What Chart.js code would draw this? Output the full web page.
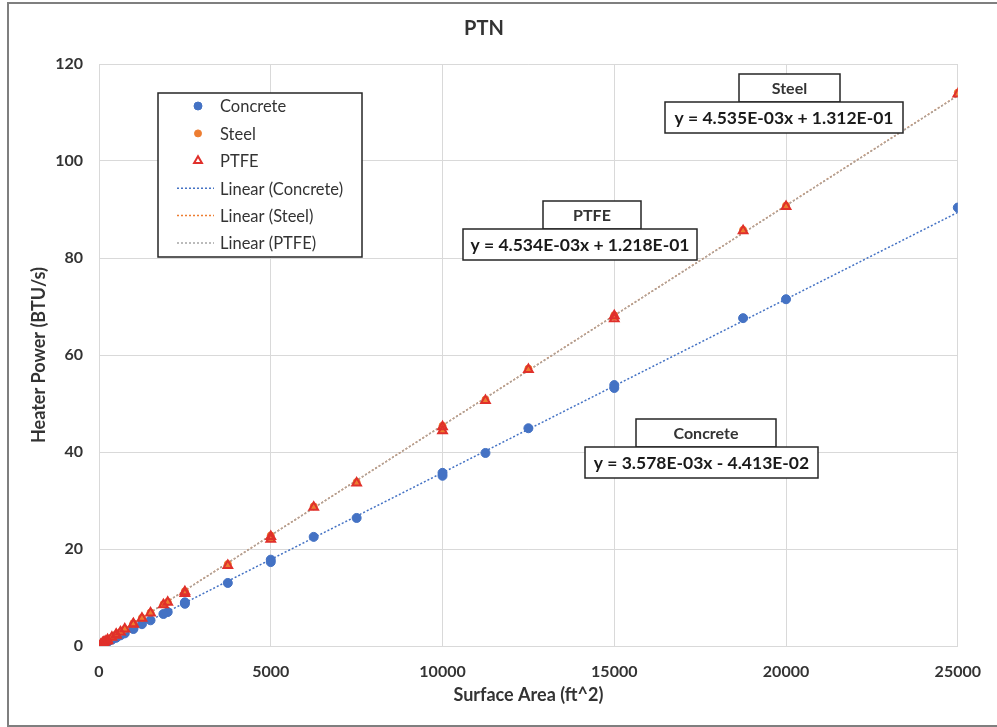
<!DOCTYPE html>
<html>
<head>
<meta charset="utf-8">
<title>PTN</title>
<script src="https://cdn.jsdelivr.net/npm/chart.js@4.4.1/dist/chart.umd.min.js"></script>
<style>
  body { margin: 0; background: #fff; }
  canvas { display: block; }
</style>
</head>
<body>
<canvas id="myChart" width="997" height="727"></canvas>
<script>
// Surface area of each case (ft^2)
var areas = [25000, 20000, 18750, 15000, 15000, 12500, 11250, 10000, 10000, 7500, 6250,
  5000, 5000, 3750, 2500, 2500, 2000, 1875, 1500, 1250, 1000, 1000, 750, 625,
  500, 500, 375, 250, 250, 200, 150, 125, 100, 50];
// Heater power (BTU/s) per material
var concrete = [90.4, 71.5, 67.6, 53.2, 53.8, 44.9, 39.8, 35.1, 35.7, 26.4, 22.5,
  17.3, 17.8, 13.0, 8.7, 9.0, 7.0, 6.6, 5.3, 4.5, 3.5, 3.7, 2.6, 2.2,
  1.8, 1.7, 1.3, 0.9, 0.85, 0.7, 0.5, 0.45, 0.35, 0.15];
var steel = [114.1, 90.8, 85.8, 67.9, 68.2, 57.2, 50.8, 45.4, 44.6, 33.8, 28.8,
  22.8, 22.2, 16.9, 11.3, 11.0, 9.1, 8.6, 6.9, 5.8, 4.7, 4.6, 3.5, 2.9,
  2.4, 2.3, 1.8, 1.3, 1.2, 1.0, 0.8, 0.7, 0.6, 0.35];
var ptfe = [113.8, 90.6, 85.6, 67.5, 68.1, 57.0, 50.6, 45.2, 44.4, 33.6, 28.6,
  22.6, 22.0, 16.6, 11.2, 10.8, 9.0, 8.5, 6.8, 5.7, 4.6, 4.5, 3.5, 2.9,
  2.4, 2.2, 1.8, 1.3, 1.1, 1.0, 0.8, 0.7, 0.6, 0.3];

// Linear trendlines (slope, intercept) as fitted
var materials = ["Concrete", "Steel", "PTFE"];
var slopes = [3.578E-03, 4.535E-03, 4.534E-03];
var intercepts = [-4.413E-02, 1.312E-01, 1.218E-01];
var equations = ["y = 3.578E-03x - 4.413E-02", "y = 4.535E-03x + 1.312E-01", "y = 4.534E-03x + 1.218E-01"];
var trendRange = [0, 25000];

var xTicks = [0, 5000, 10000, 15000, 20000, 25000];
var yTicks = [0, 20, 40, 60, 80, 100, 120];

var FONT = "Lato, 'Liberation Sans', sans-serif";
var TEXT = "#333333";

function points(xs, ys) {
  return xs.map(function (x, i) { return { x: x, y: ys[i] }; });
}
function trend(i) {
  return trendRange.map(function (x) { return { x: x, y: slopes[i] * x + intercepts[i] }; });
}

// equation boxes (title box sits on top of the equation box)
var eqBoxes = [
  { series: 0, title: [636, 419, 140, 28], eq: [585, 447, 233, 31] },
  { series: 1, title: [739, 74, 101, 28], eq: [665, 102, 238, 31] },
  { series: 2, title: [543, 201, 98, 28], eq: [463, 229, 234, 31] }
];

var framePlugin = {
  id: "frame",
  beforeDraw: function (chart) {
    var c = chart.ctx;
    c.save();
    c.fillStyle = "#fff";
    c.fillRect(0, 0, chart.width, chart.height);
    c.strokeStyle = "#7f7f7f";
    c.lineWidth = 2;
    c.strokeRect(8, 3, chart.width + 20, chart.height - 4);
    c.restore();
  }
};

var legendPlugin = {
  id: "boxLegend",
  afterDraw: function (chart) {
    var c = chart.ctx;
    var sets = chart.data.datasets;
    var left = 158, top = 93, w = 204, h = 164, row = 27.4;
    c.save();
    c.fillStyle = "#fff";
    c.fillRect(left, top, w, h);
    c.strokeStyle = "#262626";
    c.lineWidth = 1.5;
    c.strokeRect(left, top, w, h);
    c.font = "16.5px " + FONT;
    c.textBaseline = "middle";
    sets.forEach(function (ds, i) {
      var y = top + 13 + i * row;
      if (ds.showLine) {
        c.strokeStyle = ds.borderColor;
        c.lineWidth = 1.5;
        c.setLineDash(ds.borderDash);
        c.beginPath();
        c.moveTo(177, y);
        c.lineTo(214, y);
        c.stroke();
        c.setLineDash([]);
      } else {
        c.fillStyle = ds.backgroundColor;
        c.strokeStyle = ds.borderColor;
        c.lineWidth = ds.borderWidth;
        Chart.helpers.drawPoint(c, {
          pointStyle: ds.pointStyle, rotation: 0, radius: ds.legendRadius, borderWidth: ds.borderWidth
        }, 198, y);
      }
      c.fillStyle = TEXT;
      c.fillText(ds.label, 220, y + 1);
    });
    c.restore();
  }
};

var equationPlugin = {
  id: "equations",
  afterDraw: function (chart) {
    var c = chart.ctx;
    c.save();
    c.textAlign = "center";
    c.textBaseline = "middle";
    c.strokeStyle = "#262626";
    c.lineWidth = 1.5;
    eqBoxes.forEach(function (b) {
      var t = b.title, e = b.eq;
      c.fillStyle = "#fff";
      c.fillRect(t[0], t[1], t[2], t[3]);
      c.strokeRect(t[0], t[1], t[2], t[3]);
      c.fillRect(e[0], e[1], e[2], e[3]);
      c.strokeRect(e[0], e[1], e[2], e[3]);
      c.fillStyle = TEXT;
      c.font = "bold 16px " + FONT;
      c.fillText(materials[b.series], t[0] + t[2] / 2, t[1] + t[3] / 2 + 1);
      c.fillStyle = "#1a1a1a";
      c.font = "bold 17.5px " + FONT;
      c.fillText(equations[b.series], e[0] + e[2] / 2, e[1] + e[3] / 2 + 1);
    });
    c.restore();
  }
};

var ctx = document.getElementById("myChart");
var myChart = new Chart(ctx, {
  type: "scatter",
  data: {
    datasets: [
      {
        label: "Concrete",
        data: points(areas, concrete),
        pointStyle: "circle",
        radius: 4.5,
        legendRadius: 4,
        backgroundColor: "#4472c4",
        borderColor: "#4472c4",
        borderWidth: 1,
        order: 3
      },
      {
        label: "Steel",
        data: points(areas, steel),
        pointStyle: "circle",
        radius: 3.5,
        legendRadius: 3.5,
        backgroundColor: "#ed7d31",
        borderColor: "#ed7d31",
        borderWidth: 1,
        order: 2
      },
      {
        label: "PTFE",
        data: points(areas, ptfe),
        pointStyle: "triangle",
        radius: 5,
        legendRadius: 4.5,
        backgroundColor: "rgba(255,255,255,0)",
        borderColor: "#e0302b",
        borderWidth: 2,
        order: 1
      },
      {
        label: "Linear (Concrete)",
        data: trend(0),
        showLine: true,
        pointRadius: 0,
        borderColor: "#4472c4",
        borderWidth: 1.5,
        borderDash: [2, 2],
        order: 6
      },
      {
        label: "Linear (Steel)",
        data: trend(1),
        showLine: true,
        pointRadius: 0,
        borderColor: "#ed7d31",
        borderWidth: 1.5,
        borderDash: [2, 2],
        order: 5
      },
      {
        label: "Linear (PTFE)",
        data: trend(2),
        showLine: true,
        pointRadius: 0,
        borderColor: "#a5a5a5",
        borderWidth: 1.5,
        borderDash: [2, 2],
        order: 4
      }
    ]
  },
  options: {
    responsive: false,
    animation: false,
    layout: { padding: { left: 0, right: 29, top: 0, bottom: 0 } },
    plugins: {
      legend: { display: false },
      tooltip: { enabled: false },
      title: {
        display: true,
        text: "PTN",
        color: TEXT,
        font: { family: FONT, size: 20, weight: "bold", lineHeight: 1.2 },
        padding: { top: 17, bottom: 23 }
      }
    },
    scales: {
      x: {
        type: "linear",
        min: xTicks[0],
        max: xTicks[xTicks.length - 1],
        afterBuildTicks: function (scale) {
          scale.ticks = xTicks.map(function (v) { return { value: v }; });
        },
        afterFit: function (scale) { scale.height = 81; },
        grid: { color: "#d9d9d9", drawTicks: false },
        border: { color: "#d9d9d9" },
        ticks: {
          padding: 16,
          color: TEXT,
          font: { family: FONT, size: 16, weight: "bold" },
          callback: function (v) { return String(v); }
        },
        title: {
          display: true,
          text: "Surface Area (ft^2)",
          color: TEXT,
          font: { family: FONT, size: 18, weight: "bold", lineHeight: 1.2 },
          padding: { top: 0, bottom: 21 }
        }
      },
      y: {
        type: "linear",
        min: yTicks[0],
        max: yTicks[yTicks.length - 1],
        afterBuildTicks: function (scale) {
          scale.ticks = yTicks.map(function (v) { return { value: v }; });
        },
        afterFit: function (scale) { scale.width = 99; },
        grid: { color: "#d9d9d9", drawTicks: false },
        border: { color: "#d9d9d9" },
        ticks: {
          padding: 16,
          color: TEXT,
          font: { family: FONT, size: 16, weight: "bold" }
        },
        title: {
          display: true,
          text: "Heater Power (BTU/s)",
          color: TEXT,
          font: { family: FONT, size: 18, weight: "bold", lineHeight: 1.2 },
          padding: { top: 28, bottom: 0 }
        }
      }
    }
  },
  plugins: [framePlugin, legendPlugin, equationPlugin]
});
</script>
</body>
</html>
